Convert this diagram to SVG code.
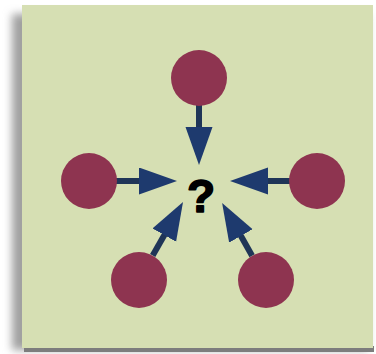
<svg xmlns="http://www.w3.org/2000/svg" width="376" height="354" viewBox="0 0 376 354">
  <style>
    .node { fill: #8e3450; }
    .conn { stroke: #1f3557; stroke-width: 6; fill: none; marker-end: url(#head); }
    .q { font-family: "Liberation Sans", Arial, sans-serif; font-weight: bold; font-size: 46px; fill: #000; stroke: #000; stroke-width: 1.6; stroke-linejoin: round; }
  </style>
  <defs>
    <filter id="blur" x="-10%" y="-10%" width="120%" height="120%">
      <feGaussianBlur stdDeviation="4"/>
    </filter>
    <marker id="head" markerUnits="userSpaceOnUse" markerWidth="40" markerHeight="28" refX="1" refY="13.5" orient="auto">
      <path d="M0,0 L38,13.5 L0,27 Z" fill="#1e3a6e"/>
    </marker>
  </defs>
  <rect width="376" height="354" fill="#ffffff"/>
  <g id="background">
    <rect x="12" y="14" width="356" height="336" fill="#a0a0a0" filter="url(#blur)"/>
    <rect x="24" y="346" width="350" height="6" fill="#7d7d7d"/>
    <rect x="22" y="5" width="351" height="343" fill="#d6dfb3"/>
  </g>
  <g id="connectors">
    <line class="conn" x1="199" y1="105" x2="199" y2="128"/>
    <line class="conn" x1="116" y1="181" x2="140" y2="181"/>
    <line class="conn" x1="290" y1="181" x2="267" y2="181"/>
    <line class="conn" x1="152.7" y1="255.6" x2="164.8" y2="234.2"/>
    <line class="conn" x1="252.1" y1="255.7" x2="240.4" y2="235.1"/>
  </g>
  <g id="node-top"><circle class="node" cx="199" cy="78" r="28"/></g>
  <g id="node-left"><circle class="node" cx="89" cy="181" r="28"/></g>
  <g id="node-right"><circle class="node" cx="317" cy="181" r="28"/></g>
  <g id="node-bottom-left"><circle class="node" cx="139" cy="280" r="28"/></g>
  <g id="node-bottom-right"><circle class="node" cx="266" cy="280" r="28"/></g>
  <g id="center">
    <text class="q" x="201" y="212" text-anchor="middle">?</text>
  </g>
</svg>
